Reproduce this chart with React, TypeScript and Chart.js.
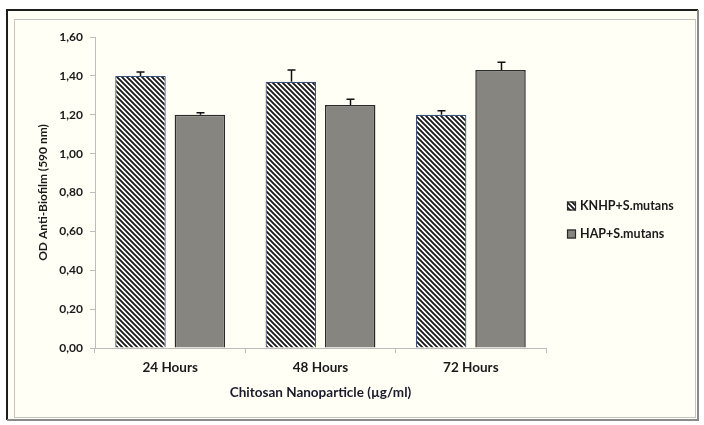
import React, { useEffect, useRef } from "react";
import { Chart, registerables } from "chart.js";

Chart.register(...registerables);

const categories = ["24 Hours", "48 Hours", "72 Hours"];
const seriesNames = ["KNHP+S.mutans", "HAP+S.mutans"];
const knhpValues = [1.4, 1.37, 1.2];
const knhpErrors = [0.02, 0.06, 0.02];
const hapValues = [1.2, 1.25, 1.43];
const hapErrors = [0.01, 0.03, 0.04];
const yMin = 0;
const yMax = 1.6;
const yStep = 0.2;
const yTitle = "OD Anti-Biofilm (590 nm)";
const xTitle = "Chitosan Nanoparticle (µg/ml)";

const FONT = "Lato, 'Open Sans', sans-serif";

function makeHatch(): CanvasPattern | string {
  const c = document.createElement("canvas");
  c.width = 5;
  c.height = 5;
  const g = c.getContext("2d");
  if (!g) return "#777";
  g.fillStyle = "#ffffff";
  g.fillRect(0, 0, 5, 5);
  g.strokeStyle = "#1a1a1a";
  g.lineWidth = 1.9;
  g.beginPath();
  for (let k = -5; k <= 10; k += 5) {
    g.moveTo(k - 1, -1);
    g.lineTo(k + 6, 6);
  }
  g.stroke();
  const p = g.createPattern(c, "repeat");
  return p || "#777";
}

export default function App() {
  const ref = useRef<HTMLCanvasElement | null>(null);

  useEffect(() => {
    if (!ref.current) return;
    const hatch = makeHatch();
    const errors = [knhpErrors, hapErrors];

    const framePlugin = {
      id: "frame",
      beforeDraw(chart: any) {
        const ctx = chart.ctx;
        ctx.save();
        ctx.fillStyle = "#ffffff";
        ctx.fillRect(0, 0, chart.width, chart.height);
        ctx.fillStyle = "#fffff6";
        ctx.fillRect(7, 10, 691, 410);
        ctx.lineWidth = 2;
        ctx.strokeStyle = "#1e1e1e";
        ctx.beginPath();
        ctx.moveTo(7, 420);
        ctx.lineTo(7, 10);
        ctx.lineTo(698, 10);
        ctx.stroke();
        ctx.strokeStyle = "#8a8a8a";
        ctx.beginPath();
        ctx.moveTo(698, 10);
        ctx.lineTo(698, 420);
        ctx.lineTo(7, 420);
        ctx.stroke();
        ctx.lineWidth = 1;
        ctx.strokeStyle = "#c4c4c4";
        ctx.strokeRect(14.5, 19.5, 681, 398);
        ctx.restore();
      },
    };

    const errorPlugin = {
      id: "errbars",
      afterDatasetsDraw(chart: any) {
        const ctx = chart.ctx;
        const yScale = chart.scales.y;
        ctx.save();
        ctx.strokeStyle = "#111111";
        ctx.lineWidth = 1.5;
        chart.data.datasets.forEach((ds: any, di: number) => {
          const meta = chart.getDatasetMeta(di);
          meta.data.forEach((bar: any, i: number) => {
            const v = ds.data[i];
            const e = errors[di][i];
            const x = Math.round(bar.x) + 0.5;
            const y0 = yScale.getPixelForValue(v);
            const y1 = yScale.getPixelForValue(v + e);
            ctx.beginPath();
            ctx.moveTo(x, y0);
            ctx.lineTo(x, y1);
            ctx.moveTo(x - 4, y1);
            ctx.lineTo(x + 4, y1);
            ctx.stroke();
          });
        });
        ctx.restore();
      },
    };

    const legendPlugin = {
      id: "customLegend",
      afterDraw(chart: any) {
        const ctx = chart.ctx;
        ctx.save();
        const items = [
          { y: 206, fill: hatch, stroke: "#2a2a2a" },
          { y: 234, fill: "#86857f", stroke: "#2a2a2a" },
        ];
        items.forEach((it, i) => {
          ctx.fillStyle = it.fill as any;
          ctx.fillRect(567, it.y - 4.5, 9, 9);
          ctx.strokeStyle = it.stroke;
          ctx.lineWidth = 1.2;
          ctx.strokeRect(567.5, it.y - 4, 8, 8);
          ctx.fillStyle = "#1a1a1a";
          ctx.font = `bold 12.5px ${FONT}`;
          ctx.textBaseline = "middle";
          ctx.textAlign = "left";
          ctx.fillText(seriesNames[i], 580, it.y);
        });
        ctx.restore();
      },
    };

    const chart = new Chart(ref.current, {
      type: "bar",
      data: {
        labels: categories,
        datasets: [
          {
            label: seriesNames[0],
            data: knhpValues,
            backgroundColor: hatch as any,
            borderColor: "#3b5078",
            borderWidth: 1.2,
            categoryPercentage: 0.79,
            barPercentage: 0.85,
          },
          {
            label: seriesNames[1],
            data: hapValues,
            backgroundColor: "#86857f",
            borderColor: "#2a2a2a",
            borderWidth: 1.5,
            categoryPercentage: 0.79,
            barPercentage: 0.85,
          },
        ],
      },
      options: {
        animation: false,
        responsive: true,
        maintainAspectRatio: false,
        layout: { padding: { left: 32, top: 37, right: 158, bottom: 20 } },
        plugins: {
          legend: { display: false },
          tooltip: { enabled: false },
        },
        scales: {
          x: {
            grid: {
              display: true,
              offset: true,
              drawOnChartArea: false,
              drawTicks: true,
              tickLength: 5,
              color: "#bdbdbd",
            },
            border: { color: "#bdbdbd", width: 1 },
            ticks: {
              color: "#1a1a1a",
              font: { family: FONT, size: 13.5, weight: "bold" },
              padding: 7,
            },
            title: {
              display: true,
              text: xTitle,
              color: "#1a1a2a",
              font: { family: FONT, size: 13.5, weight: "bold" },
              padding: { top: 4, bottom: 4 },
            },
            afterFit(scale: any) {
              scale.height = 57;
            },
          },
          y: {
            min: yMin,
            max: yMax,
            grid: {
              display: true,
              drawOnChartArea: false,
              drawTicks: true,
              tickLength: 5,
              color: "#bdbdbd",
            },
            border: { color: "#bdbdbd", width: 1 },
            ticks: {
              stepSize: yStep,
              color: "#1a1a1a",
              font: { family: FONT, size: 12, weight: "bold" },
              padding: 7,
              callback: (v: any) => Number(v).toFixed(2).replace(".", ","),
            },
            title: {
              display: true,
              text: yTitle,
              color: "#1a1a1a",
              font: { family: FONT, size: 12, weight: "bold" },
              padding: { top: 4, bottom: 4 },
            },
            afterFit(scale: any) {
              scale.width = 63;
            },
          },
        },
      },
      plugins: [framePlugin, errorPlugin, legendPlugin],
    });

    return () => chart.destroy();
  }, []);

  return (
    <div style={{ position: "fixed", left: 0, top: 0, width: 704, height: 425 }}>
      <canvas ref={ref} />
    </div>
  );
}
